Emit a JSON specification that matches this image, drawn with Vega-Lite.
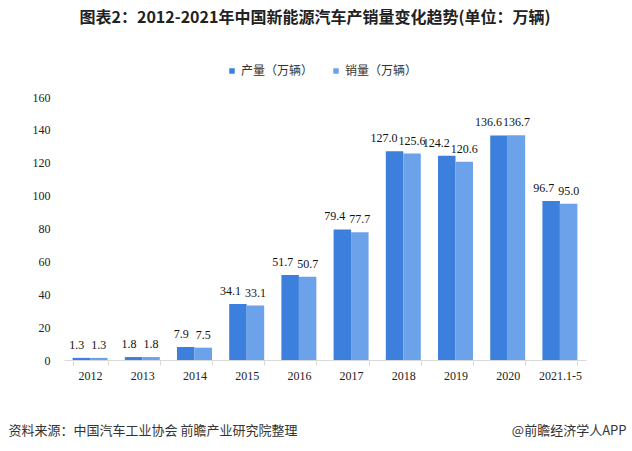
{
  "$schema": "https://vega.github.io/schema/vega-lite/v6.json",
  "autosize": {"type": "none"},
  "width": 522,
  "height": 263,
  "padding": {"left": 64, "top": 97, "right": 46, "bottom": 91},
  "background": "white",
  "title": {
    "text": "图表2：2012-2021年中国新能源汽车产销量变化趋势(单位：万辆)",
    "font": "Noto Sans CJK SC",
    "fontSize": 16,
    "fontWeight": "bold",
    "color": "#222222",
    "anchor": "middle",
    "frame": "group",
    "dx": -10,
    "offset": 39
  },
  "data": {
    "values": [
      {"year": "2012", "series": "产量（万辆）", "value": 1.3},
      {"year": "2012", "series": "销量（万辆）", "value": 1.3},
      {"year": "2013", "series": "产量（万辆）", "value": 1.8},
      {"year": "2013", "series": "销量（万辆）", "value": 1.8},
      {"year": "2014", "series": "产量（万辆）", "value": 7.9},
      {"year": "2014", "series": "销量（万辆）", "value": 7.5},
      {"year": "2015", "series": "产量（万辆）", "value": 34.1},
      {"year": "2015", "series": "销量（万辆）", "value": 33.1},
      {"year": "2016", "series": "产量（万辆）", "value": 51.7},
      {"year": "2016", "series": "销量（万辆）", "value": 50.7},
      {"year": "2017", "series": "产量（万辆）", "value": 79.4},
      {"year": "2017", "series": "销量（万辆）", "value": 77.7},
      {"year": "2018", "series": "产量（万辆）", "value": 127.0},
      {"year": "2018", "series": "销量（万辆）", "value": 125.6},
      {"year": "2019", "series": "产量（万辆）", "value": 124.2},
      {"year": "2019", "series": "销量（万辆）", "value": 120.6},
      {"year": "2020", "series": "产量（万辆）", "value": 136.6},
      {"year": "2020", "series": "销量（万辆）", "value": 136.7},
      {"year": "2021.1-5", "series": "产量（万辆）", "value": 96.7},
      {"year": "2021.1-5", "series": "销量（万辆）", "value": 95.0}
    ]
  },
  "encoding": {
    "x": {
      "field": "year",
      "type": "nominal",
      "sort": null,
      "scale": {"paddingInner": 0.33, "paddingOuter": 0.165},
      "axis": {
        "title": "资料来源：中国汽车工业协会 前瞻产业研究院整理",
        "titleX": -56,
        "titleY": 70,
        "titleAlign": "left",
        "titleBaseline": "middle",
        "titleFont": "Noto Sans CJK SC",
        "titleFontSize": 13,
        "titleFontWeight": "normal",
        "titleColor": "#333333",
        "labelAngle": 0,
        "labelFont": "Liberation Serif",
        "labelFontSize": 12,
        "labelColor": "#222222",
        "labelPadding": 5,
        "tickBand": "extent",
        "tickSize": 5,
        "tickColor": "#d9d9d9",
        "domainColor": "#d9d9d9",
        "grid": false
      }
    },
    "xOffset": {
      "field": "series",
      "type": "nominal",
      "sort": ["产量（万辆）", "销量（万辆）"],
      "scale": {"paddingInner": 0}
    },
    "y": {
      "field": "value",
      "type": "quantitative",
      "scale": {"domain": [0, 160], "nice": false},
      "axis": {
        "title": "@前瞻经济学人APP",
        "titleAngle": 0,
        "titleX": 562,
        "titleY": 333,
        "titleAlign": "right",
        "titleBaseline": "middle",
        "titleFont": "Noto Sans CJK SC",
        "titleFontSize": 13,
        "titleFontWeight": "normal",
        "titleColor": "#333333",
        "values": [0, 20, 40, 60, 80, 100, 120, 140, 160],
        "labelFont": "Liberation Serif",
        "labelFontSize": 12,
        "labelColor": "#222222",
        "labelPadding": 14,
        "ticks": false,
        "domain": false,
        "grid": false
      }
    }
  },
  "layer": [
    {
      "mark": {"type": "bar"},
      "encoding": {
        "color": {
          "field": "series",
          "type": "nominal",
          "sort": ["产量（万辆）", "销量（万辆）"],
          "scale": {"range": ["#3D7FDC", "#6CA2E9"]},
          "legend": {
            "title": null,
            "orient": "none",
            "direction": "horizontal",
            "legendX": 162,
            "legendY": -32,
            "padding": 0,
            "symbolType": "square",
            "symbolSize": 30,
            "symbolStrokeWidth": 0,
            "labelFont": "Noto Sans CJK SC",
            "labelFontSize": 12,
            "labelColor": "#333333",
            "labelOffset": 3,
            "columnPadding": 16
          }
        }
      }
    },
    {
      "transform": [{"filter": "datum.series === '产量（万辆）'"}],
      "mark": {"type": "text", "align": "right", "baseline": "bottom", "dx": 3, "dy": -6, "font": "Liberation Serif", "fontSize": 12, "color": "#111111"},
      "encoding": {"text": {"field": "value", "type": "quantitative", "format": ".1f"}}
    },
    {
      "transform": [{"filter": "datum.series === '销量（万辆）'"}],
      "mark": {"type": "text", "align": "center", "baseline": "bottom", "dy": -6, "font": "Liberation Serif", "fontSize": 12, "color": "#111111"},
      "encoding": {"text": {"field": "value", "type": "quantitative", "format": ".1f"}}
    }
  ],
  "config": {"view": {"stroke": null}}
}
